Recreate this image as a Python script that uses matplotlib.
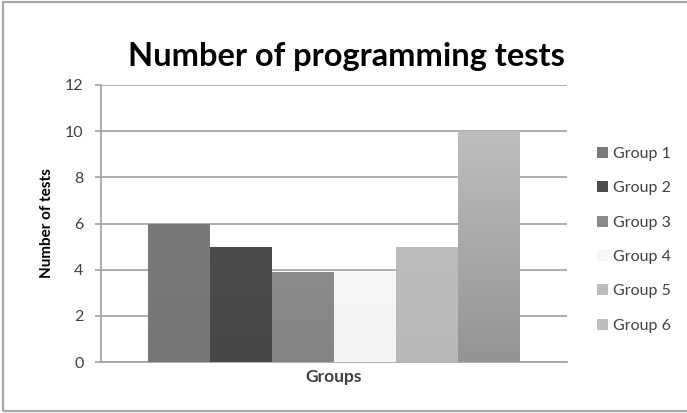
import matplotlib.pyplot as plt
import numpy as np
from matplotlib.colors import LinearSegmentedColormap
from matplotlib.patches import Rectangle

groups = ["Group 1", "Group 2", "Group 3", "Group 4", "Group 5", "Group 6"]
tests = [6, 5, 3.9, 3.9, 5, 10]
y_ticks = [0, 2, 4, 6, 8, 10, 12]

# top / bottom shade of each bar (Excel-style vertical gradient)
top_colors = ["#7a7a7a", "#4c4c4c", "#8a8a8a", "#f6f6f6", "#bcbcbc", "#bebebe"]
bottom_colors = ["#767676", "#474747", "#858585", "#f3f3f3", "#b8b8b8", "#949494"]

plt.rcParams["font.family"] = ["Lato", "DejaVu Sans"]
text_color = "#404040"
line_color = "#a0a0a0"

fig = plt.figure(figsize=(6.87, 4.13), dpi=100)
fig.patch.set_facecolor("white")

# thin grey frame around the whole chart area
fig.patches.append(Rectangle((3 / 687, 2 / 413), 1.0, 409 / 413,
                             transform=fig.transFigure, fill=False,
                             edgecolor="#a8a8a8", linewidth=1.6))

ax = fig.add_axes([101 / 687, 1 - 362 / 413, 466 / 687, 277 / 413])

x = np.arange(len(groups))
bars = ax.bar(x, tests, width=1.0, color="none", edgecolor="none", zorder=3)

grad = np.linspace(0, 1, 256).reshape(-1, 1)
for bar, top, bottom in zip(bars, top_colors, bottom_colors):
    cmap = LinearSegmentedColormap.from_list("shade", [bottom, top])
    bx, by = bar.get_x(), bar.get_y()
    im = ax.imshow(grad, cmap=cmap, origin="lower", aspect="auto",
                   extent=[bx, bx + bar.get_width(), by, by + bar.get_height()],
                   zorder=3)
    im.set_clip_path(bar)

ax.set_xlim(-0.5 - 47 / 62, len(groups) - 0.5 + 47 / 62)
ax.set_ylim(0, 12)
ax.set_yticks(y_ticks)
ax.set_xticks([])

ax.grid(axis="y", color=line_color, linewidth=1.2, zorder=0)
for side in ["top", "right"]:
    ax.spines[side].set_visible(False)
for side in ["left", "bottom"]:
    ax.spines[side].set_color(line_color)
    ax.spines[side].set_linewidth(1.2)
ax.tick_params(axis="y", length=4.5, width=1.2, color=line_color,
               labelsize=11.5, labelcolor=text_color, pad=8)

ax.set_xlabel("Groups", fontsize=12.5, fontweight="bold", color=text_color,
              labelpad=5)
ax.set_ylabel("Number of tests", fontsize=11, fontweight="bold",
              color="black", labelpad=8)

fig.text(346 / 687, 1 - 66 / 413, "Number of programming tests",
         ha="center", va="baseline", fontsize=23.5, fontweight="bold")

handles = [Rectangle((0, 0), 1, 1, facecolor=c) for c in top_colors]
ax.legend(handles, groups, loc="upper left",
          bbox_to_anchor=(597 / 687, 1 - 147 / 413),
          bbox_transform=fig.transFigure, frameon=False, fontsize=11.5,
          labelcolor=text_color, borderpad=0, borderaxespad=0,
          handlelength=0.7, handleheight=0.7, handletextpad=0.3,
          labelspacing=1.26)

fig.savefig("out.png", dpi=100)
